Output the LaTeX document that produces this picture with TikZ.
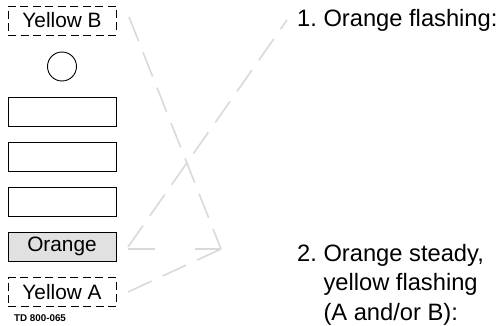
\documentclass[tikz,border=0pt]{standalone}
\usepackage{fontspec}
\setmainfont{Liberation Sans}
\definecolor{linegray}{RGB}{217,217,217}
\definecolor{lampgray}{RGB}{225,225,225}
\tikzstyle{lamp} = [draw, line width=0.9pt, minimum width=108pt, minimum height=29pt, inner sep=0pt, font=\fontsize{20.8}{24}\selectfont]
\tikzstyle{optional} = [lamp, dash pattern=on 8pt off 4.5pt]
\tikzstyle{legend} = [font=\fontsize{23.7}{29.5}\selectfont\frenchspacing, inner sep=0pt, align=left, anchor=base west]
\tikzset{link/.style={line width=1.6pt, linegray, dash pattern=on 26pt off 12pt}}

\begin{document}
\begin{tikzpicture}[x=1pt, y=-1pt]
  \useasboundingbox (0,0) rectangle (501,326);
  % Lamps, top to bottom
  \node[optional] (yellowB) at (62,20.5) {Yellow B};
  \node[draw, circle, line width=0.9pt, minimum size=29pt, inner sep=0pt] (round) at (62,66.5) {};
  \node[lamp] (lampA) at (62,111.5) {};
  \node[lamp] (lampB) at (62,156.5) {};
  \node[lamp] (lampC) at (62,201.5) {};
  \node[lamp, fill=lampgray] (orange) at (62,246.5) {Orange};
  \node[optional] (yellowA) at (62,292) {Yellow A};
  \node[anchor=base west, inner sep=0pt, font=\fontsize{9.8}{10}\selectfont\bfseries] (code) at (14,321) {TD 800-065};
  % Legend (base sits on the last line)
  \node[legend] (flash) at (297,27) {1.\ Orange flashing:};
  \node[legend] (steady) at (297,320) {2.\ Orange steady,\\\hphantom{2.\ }yellow flashing\\\hphantom{2.\ }(A and/or B):};
  % Connector ends
  \coordinate (fromB) at (129,17);
  \coordinate (fromO) at (128,249);
  \coordinate (upO) at (128,247);
  \coordinate (fromA) at (128,292);
  \coordinate (meet) at (221,249);
  \coordinate (toflash) at (287,20);
  % Dashed connectors
  \draw[link] (fromB) -- (meet);
  \draw[link, dash pattern=on 27pt off 40pt] (fromO) -- (meet);
  \draw[link] (fromA) -- (meet);
  \draw[link] (upO) -- (toflash);
\end{tikzpicture}
\end{document}
